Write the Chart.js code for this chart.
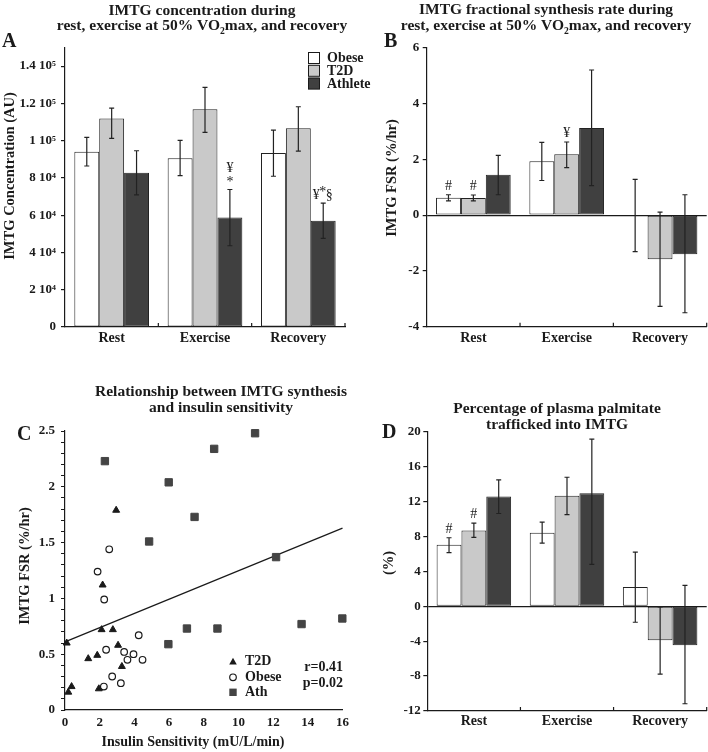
<!DOCTYPE html>
<html><head><meta charset="utf-8">
<script src="https://cdn.jsdelivr.net/npm/chart.js@4/dist/chart.umd.min.js"></script>
<style>
html,body{margin:0;padding:0;background:#fff;}
#wrap{position:relative;width:708px;height:752px;overflow:hidden;}
canvas{position:absolute;}
</style></head><body>
<div id="wrap">
<canvas id="cA" width="420" height="376" style="left:0;top:0"></canvas>
<canvas id="cB" width="354" height="376" style="left:354px;top:0"></canvas>
<canvas id="cC" width="354" height="376" style="left:0;top:376px"></canvas>
<canvas id="cD" width="354" height="376" style="left:354px;top:376px"></canvas>
</div>
<script>
// ================= DATA =================
const phases = ['Rest', 'Exercise', 'Recovery'];
const groups = ['Obese', 'T2D', 'Athlete'];

// Panel A: IMTG concentration (AU); whiskers as [low, high]
const concObese = [94100, 90600, 93400];
const concT2D   = [111900, 116800, 106600];
const concAth   = [82800, 58800, 57000];
const concObeseErr = [[86400, 101800], [81200, 100200], [80900, 105700]];
const concT2DErr   = [[101200, 117500], [104500, 128600], [94400, 118200]];
const concAthErr   = [[70900, 94600], [43600, 73800], [47600, 66500]];
const concTicks      = [0, 20000, 40000, 60000, 80000, 100000, 120000, 140000];
const concTickLabels = ['0', '2 10\u2074', '4 10\u2074', '6 10\u2074', '8 10\u2074', '1 10\u2075', '1.2 10\u2075', '1.4 10\u2075'];

// Panel B: IMTG FSR (%/hr)
const fsrObese = [0.62, 1.93, 0.0];
const fsrT2D   = [0.61, 2.18, -1.58];
const fsrAth   = [1.45, 3.12, -1.40];
const fsrObeseErr = [[0.51, 0.73], [1.24, 2.61], [-1.31, 1.28]];
const fsrT2DErr   = [[0.51, 0.72], [1.70, 2.62], [-3.27, 0.11]];
const fsrAthErr   = [[0.73, 2.14], [1.06, 5.20], [-3.50, 0.73]];
const fsrTicks = [-4, -2, 0, 2, 4, 6];

// Panel C: IMTG FSR vs insulin sensitivity
const t2dX = [2.95, 2.17, 2.11, 2.76, 3.06, 1.34, 1.86, 3.28, 0.10, 0.38, 0.19, 1.95];
const t2dY = [1.79, 1.12, 0.72, 0.72, 0.58, 0.46, 0.49, 0.39, 0.60, 0.21, 0.16, 0.19];
const obeseX = [1.88, 2.55, 2.26, 4.25, 2.37, 3.41, 3.95, 3.60, 4.47, 2.72, 3.22, 2.24];
const obeseY = [1.24, 1.44, 0.99, 0.67, 0.54, 0.52, 0.50, 0.45, 0.45, 0.30, 0.24, 0.21];
const athX = [2.30, 5.98, 8.60, 10.96, 7.47, 4.85, 12.17, 5.96, 7.03, 8.79, 13.64, 15.99];
const athY = [2.23, 2.04, 2.34, 2.48, 1.73, 1.51, 1.37, 0.59, 0.73, 0.73, 0.77, 0.82];
const fitX = [0, 16];
const fitY = [0.61, 1.63];
const corrText = ['r=0.41', 'p=0.02'];
const scatterLegend = ['T2D', 'Obese', 'Ath'];

// Panel D: % plasma palmitate trafficked into IMTG
const pctObese = [7.05, 8.42, 2.21];
const pctT2D   = [8.69, 12.65, -3.89];
const pctAth   = [12.57, 12.95, -4.46];
const pctObeseErr = [[6.14, 7.85], [7.24, 9.63], [-1.83, 6.21]];
const pctT2DErr   = [[7.89, 9.52], [10.51, 14.78], [-7.77, -0.08]];
const pctAthErr   = [[10.63, 14.48], [4.8, 19.16], [-11.17, 2.40]];
const pctTicks = [-12, -8, -4, 0, 4, 8, 12, 16, 20];

// ================= STYLE =================
const SERIF = "'Liberation Serif','Times New Roman',Times,serif";
const INK = '#1a1a1a';
const FILL = ['#ffffff', '#c9c9c9', '#404040'];
Chart.defaults.font.family = SERIF;
Chart.defaults.color = INK;

function barDatasets(vals) {
  return groups.map((g, k) => ({
    label: g, data: vals[k], backgroundColor: FILL[k], borderColor: '#222',
    borderWidth: 1, borderSkipped: false, barPercentage: 1, categoryPercentage: 0.8
  }));
}

function drawRich(ctx, text, cx, base, size) {
  const parts = text.split('\u2082');
  const segs = [];
  parts.forEach((p, i) => { segs.push([p, false]); if (i < parts.length - 1) segs.push(['2', true]); });
  let total = 0; const ws = [];
  segs.forEach(s => { ctx.font = 'bold ' + (s[1] ? size * 0.62 : size) + 'px ' + SERIF; const w = ctx.measureText(s[0]).width; ws.push(w); total += w; });
  let x = cx - total / 2;
  ctx.textAlign = 'left'; ctx.textBaseline = 'alphabetic';
  segs.forEach((s, i) => {
    ctx.font = 'bold ' + (s[1] ? size * 0.62 : size) + 'px ' + SERIF;
    ctx.fillText(s[0], x, base + (s[1] ? size * 0.28 : 0));
    x += ws[i];
  });
}

function makeDecor(d) {
  return {
    id: 'decor',
    afterDatasetsDraw(chart) {
      const ctx = chart.ctx; ctx.save();
      ctx.strokeStyle = '#222'; ctx.fillStyle = INK;
      if (d.errs) {
        const ys = chart.scales.y;
        d.errs.forEach((errs, di) => {
          const meta = chart.getDatasetMeta(di);
          errs.forEach((e, i) => {
            const x = meta.data[i].x;
            const y1 = ys.getPixelForValue(e[0]), y2 = ys.getPixelForValue(e[1]);
            ctx.lineWidth = 1.2; ctx.beginPath();
            ctx.moveTo(x, y1); ctx.lineTo(x, y2);
            ctx.moveTo(x - 2.5, y1); ctx.lineTo(x + 2.5, y1);
            ctx.moveTo(x - 2.5, y2); ctx.lineTo(x + 2.5, y2);
            ctx.stroke();
          });
        });
        (d.marks || []).forEach(m => {
          const meta = chart.getDatasetMeta(m.ds);
          const x = meta.data[m.i].x;
          const e = d.errs[m.ds][m.i];
          const top = Math.min(ys.getPixelForValue(e[0]), ys.getPixelForValue(e[1]));
          m.parts.forEach(p => {
            ctx.font = '14px ' + SERIF; ctx.textAlign = 'center'; ctx.textBaseline = 'alphabetic';
            ctx.fillText(p[0], x + p[1], top + p[2]);
          });
        });
      }
      ctx.restore();
    },
    afterDraw(chart) {
      const ctx = chart.ctx; ctx.save(); ctx.fillStyle = INK; ctx.strokeStyle = INK;
      d.title.forEach((t, i) => drawRich(ctx, t, d.titleX, d.titleY[i], 15.5));
      ctx.font = 'bold 20px ' + SERIF; ctx.textAlign = 'left'; ctx.textBaseline = 'alphabetic';
      ctx.fillText(d.letter, d.letterX, d.letterY);
      ctx.save(); ctx.translate(d.yTitleX, d.yTitleY); ctx.rotate(-Math.PI / 2);
      ctx.font = 'bold 14.5px ' + SERIF; ctx.textAlign = 'center'; ctx.textBaseline = 'middle';
      ctx.fillText(d.yTitle, 0, 0); ctx.restore();
      if (d.xTitle) {
        ctx.font = 'bold 14px ' + SERIF; ctx.textAlign = 'center'; ctx.textBaseline = 'middle';
        ctx.fillText(d.xTitle, d.xTitleX, d.xTitleY);
      }
      if (d.catTicks) {
        const xs = chart.scales.x; const n = xs.ticks.length; const w = (xs.right - xs.left) / n;
        ctx.lineWidth = 1.2; ctx.beginPath();
        for (let i = 1; i <= n; i++) { const X = xs.left + i * w; ctx.moveTo(X, xs.top); ctx.lineTo(X, xs.top - 4); }
        ctx.stroke();
      }
      if (d.boxLegend) {
        chart.data.datasets.forEach((ds, k) => {
          const y = 52 + k * 12.8;
          ctx.fillStyle = ds.backgroundColor; ctx.fillRect(308, y, 11.5, 11.5);
          ctx.lineWidth = 1; ctx.strokeStyle = INK; ctx.strokeRect(308.5, y + 0.5, 11, 11);
          ctx.fillStyle = INK; ctx.font = 'bold 14px ' + SERIF; ctx.textAlign = 'left'; ctx.textBaseline = 'middle';
          ctx.fillText(ds.label, 327, y + 6.5);
        });
      }
      if (d.pointLegend) {
        const rows = [285.7, 301.3, 316.3];
        const mx = 233;
        rows.forEach((y, k) => {
          ctx.fillStyle = INK; ctx.strokeStyle = INK; ctx.lineWidth = 1.2;
          if (k === 0) { ctx.beginPath(); ctx.moveTo(mx, y - 4); ctx.lineTo(mx + 3.8, y + 2.8); ctx.lineTo(mx - 3.8, y + 2.8); ctx.closePath(); ctx.fill(); }
          if (k === 1) { ctx.beginPath(); ctx.arc(mx, y, 3.3, 0, Math.PI * 2); ctx.fillStyle = '#fff'; ctx.fill(); ctx.stroke(); }
          if (k === 2) { ctx.fillStyle = '#444'; ctx.fillRect(mx - 3.7, y - 3.7, 7.4, 7.4); }
          ctx.fillStyle = INK; ctx.font = 'bold 14px ' + SERIF; ctx.textAlign = 'left'; ctx.textBaseline = 'middle';
          ctx.fillText(scatterLegend[k], mx + 12, y);
        });
        ctx.textAlign = 'right';
        ctx.fillText(corrText[0], 343, 291.3);
        ctx.fillText(corrText[1], 343, 307.3);
      }
      ctx.restore();
    }
  };
}

function barScales(o) {
  return {
    x: {
      type: 'category', offset: true,
      grid: { display: false, drawTicks: false },
      border: { display: true, color: INK, width: 1.2 },
      ticks: { color: INK, font: { family: SERIF, size: 14, weight: 'bold' }, padding: o.xPad, maxRotation: 0 },
      afterFit: s => { s.height = o.xH; }
    },
    y: {
      min: o.min, max: o.max,
      afterBuildTicks: s => { s.ticks = o.ticks.map(v => ({ value: v })); },
      grid: {
        drawOnChartArea: o.zero,
        color: c => (c.tick && c.tick.value === 0) ? INK : 'rgba(0,0,0,0)',
        tickColor: INK, tickLength: 4, lineWidth: 1.2
      },
      border: { display: true, color: INK, width: 1.2 },
      ticks: {
        color: INK, font: { family: SERIF, size: 13, weight: 'bold' }, padding: o.yPad, autoSkip: false,
        callback: (v) => o.labels ? o.labels[o.ticks.indexOf(v)] : String(v)
      },
      afterFit: s => { s.width = o.yW; }
    }
  };
}

function barChart(id, vals, sc, pad, decor) {
  return new Chart(document.getElementById(id), {
    type: 'bar',
    data: { labels: phases, datasets: barDatasets(vals) },
    options: {
      responsive: false, animation: false, devicePixelRatio: 1,
      layout: { padding: pad },
      plugins: { legend: { display: false }, title: { display: false }, tooltip: { enabled: false } },
      scales: barScales(sc)
    },
    plugins: [makeDecor(decor)]
  });
}

// ---- Panel A ----
barChart('cA', [concObese, concT2D, concAth],
  { min: 0, max: 150000, ticks: concTicks, labels: concTickLabels, zero: false, xH: 30, xPad: 3, yW: 50, yPad: 5 },
  { left: 15, right: 75, top: 47.5, bottom: 19 },
  {
    title: ['IMTG concentration during', 'rest, exercise at 50% VO\u2082max, and recovery'],
    titleX: 202, titleY: [15, 30], letter: 'A', letterX: 2, letterY: 47,
    yTitle: 'IMTG Concentration (AU)', yTitleX: 10, yTitleY: 176,
    catTicks: true, boxLegend: true,
    errs: [concObeseErr, concT2DErr, concAthErr],
    marks: [
      { ds: 2, i: 1, parts: [['\u00A5', 0, -17], ['*', 0, -3]] },
      { ds: 2, i: 2, parts: [['\u00A5', -7, -4], ['*', -0.5, -7], ['\u00A7', 6, -4]] }
    ]
  });

// ---- Panel B ----
barChart('cB', [fsrObese, fsrT2D, fsrAth],
  { min: -4, max: 6, ticks: fsrTicks, zero: true, xH: 30, xPad: 3, yW: 40, yPad: 3.5 },
  { left: 32.7, right: 1.3, top: 47.7, bottom: 19.3 },
  {
    title: ['IMTG fractional synthesis rate during', 'rest, exercise at 50% VO\u2082max, and recovery'],
    titleX: 192, titleY: [14, 29.5], letter: 'B', letterX: 30, letterY: 47,
    yTitle: 'IMTG FSR (%/hr)', yTitleX: 38, yTitleY: 178,
    catTicks: true,
    errs: [fsrObeseErr, fsrT2DErr, fsrAthErr],
    marks: [
      { ds: 0, i: 0, parts: [['#', 0, -5]] },
      { ds: 1, i: 0, parts: [['#', 0, -5]] },
      { ds: 1, i: 1, parts: [['\u00A5', 0, -5]] }
    ]
  });

// ---- Panel D ----
barChart('cD', [pctObese, pctT2D, pctAth],
  { min: -12, max: 20, ticks: pctTicks, zero: true, xH: 30, xPad: 2, yW: 40, yPad: 2.5 },
  { left: 33.3, right: 1.3, top: 55.7, bottom: 11 },
  {
    title: ['Percentage of plasma palmitate', 'trafficked into IMTG'],
    titleX: 203, titleY: [37, 53], letter: 'D', letterX: 28, letterY: 62,
    yTitle: '(%)', yTitleX: 35, yTitleY: 187,
    catTicks: true,
    errs: [pctObeseErr, pctT2DErr, pctAthErr],
    marks: [
      { ds: 0, i: 0, parts: [['#', 0, -5]] },
      { ds: 1, i: 0, parts: [['#', 0, -5]] }
    ]
  });

// ---- Panel C ----
const toPts = (xs, ys) => xs.map((x, i) => ({ x: x, y: ys[i] }));
new Chart(document.getElementById('cC'), {
  type: 'scatter',
  data: {
    datasets: [
      { label: 'fit', type: 'line', data: toPts(fitX, fitY), borderColor: INK, borderWidth: 1.2, pointRadius: 0, fill: false, order: 4, clip: false },
      { label: 'T2D', data: toPts(t2dX, t2dY), pointStyle: 'triangle', radius: 4, backgroundColor: INK, borderColor: INK, borderWidth: 1, order: 1, clip: false },
      { label: 'Obese', data: toPts(obeseX, obeseY), pointStyle: 'circle', radius: 3.3, backgroundColor: '#fff', borderColor: INK, borderWidth: 1.2, order: 2, clip: false },
      { label: 'Ath', data: toPts(athX, athY), pointStyle: 'rect', radius: 5.2, backgroundColor: '#444', borderColor: '#444', borderWidth: 1, order: 3, clip: false }
    ]
  },
  options: {
    responsive: false, animation: false, devicePixelRatio: 1,
    layout: { padding: { left: 25, right: 10.7, top: 55, bottom: 17 } },
    plugins: { legend: { display: false }, tooltip: { enabled: false } },
    scales: {
      x: {
        type: 'linear', min: 0, max: 16,
        grid: { display: false, drawTicks: false },
        border: { display: true, color: INK, width: 1.2 },
        ticks: { stepSize: 2, color: INK, font: { family: SERIF, size: 13, weight: 'bold' }, padding: 5, maxRotation: 0 },
        afterFit: s => { s.height = 25; }
      },
      y: {
        min: 0, max: 2.5,
        grid: { drawOnChartArea: false, tickColor: INK, tickLength: 4, lineWidth: 1 },
        border: { display: true, color: INK, width: 1.2 },
        ticks: {
          stepSize: 0.1, maxTicksLimit: 40, autoSkip: false, color: INK,
          font: { family: SERIF, size: 13, weight: 'bold' }, padding: 6,
          callback: v => Math.abs(v * 2 - Math.round(v * 2)) < 1e-6 ? String(Math.round(v * 2) / 2) : ''
        },
        afterFit: s => { s.width = 40; }
      }
    }
  },
  plugins: [makeDecor({
    title: ['Relationship between IMTG synthesis', 'and insulin sensitivity'],
    titleX: 221, titleY: [20, 36], letter: 'C', letterX: 17, letterY: 64,
    yTitle: 'IMTG FSR (%/hr)', yTitleX: 25, yTitleY: 190,
    xTitle: 'Insulin Sensitivity (mU/L/min)', xTitleX: 193, xTitleY: 366,
    pointLegend: true
  })]
});
</script>
</body></html>
